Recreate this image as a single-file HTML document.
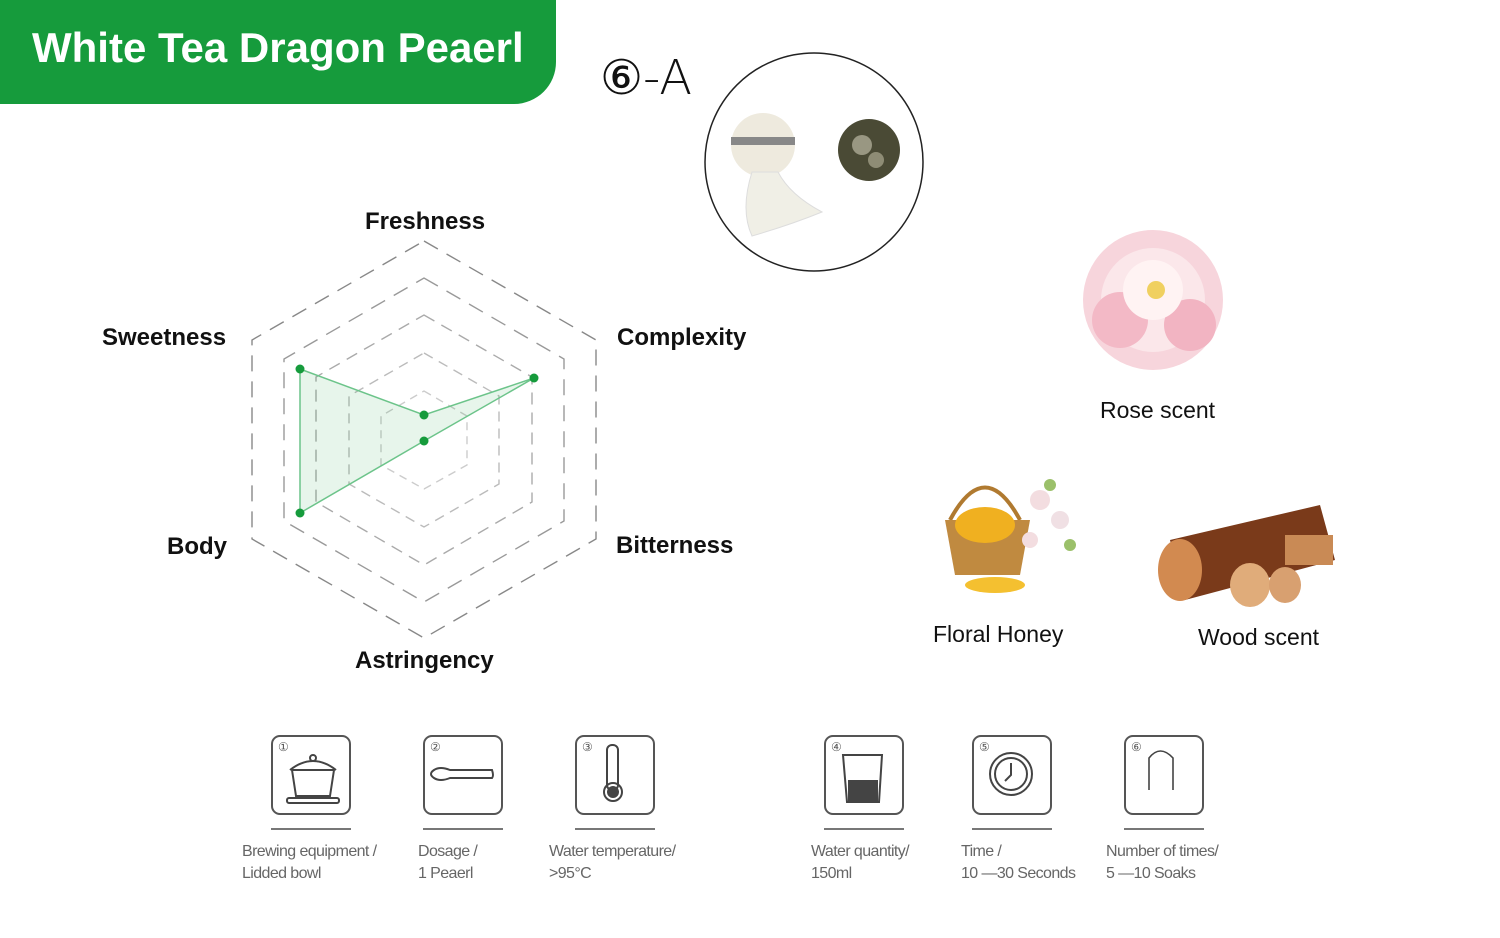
<!DOCTYPE html>
<html><head><meta charset="utf-8"><style>
body{margin:0;width:1500px;height:938px;background:#fff;position:relative;overflow:hidden;font-family:"Liberation Sans",sans-serif}
.t{position:absolute;font-weight:bold;font-size:24px;color:#111;white-space:nowrap}
.s{position:absolute;font-size:23px;color:#111;white-space:nowrap}
.cap{position:absolute;font-size:16px;color:#666;line-height:22px;letter-spacing:-0.6px;white-space:nowrap}
.ib{position:absolute;width:76px;height:76px;border:2px solid #555;border-radius:9px;top:735px}
.ln{position:absolute;height:2px;width:80px;background:#777;top:828px}
.num{position:absolute;left:5px;top:3px;font-size:12px;color:#555}
</style></head><body>
<div style="position:absolute;left:0;top:0;width:556px;height:104px;background:#169b3c;border-bottom-right-radius:42px"></div>
<div style="position:absolute;left:32px;top:24px;font-size:42px;font-weight:bold;color:#fff;white-space:nowrap">White Tea Dragon Peaerl</div>
<div style="position:absolute;left:600px;top:50px;font-size:48px;color:#111;white-space:nowrap;font-family:'DejaVu Sans',sans-serif;font-weight:200">⑥-A</div>

<svg width="1500" height="938" style="position:absolute;left:0;top:0">
<circle cx="814" cy="162" r="109" fill="none" stroke="#222" stroke-width="1.5"/>
<circle cx="763" cy="145" r="32" fill="#eeeade"/>
<rect x="731" y="137" width="64" height="8" fill="#888"/>
<path d="M752 172 Q740 210 752 236 Q790 225 822 212 Q790 195 778 172 Z" fill="#f0efe6" stroke="#ddd"/>
<circle cx="869" cy="150" r="31" fill="#4a4a35"/>
<circle cx="862" cy="145" r="10" fill="#cfcbb5" opacity=".6"/>
<circle cx="876" cy="160" r="8" fill="#bdb9a0" opacity=".6"/>

<g fill="none" stroke="#888" stroke-width="1.4" stroke-dasharray="16,10">
<polygon points="424,241 596,340 596,539 424,638 252,539 252,340"/>
<polygon points="424,278 564,359 564,521 424,602 284,521 284,359" stroke="#999"/>
<polygon points="424,315 532,377 532,502 424,565 316,502 316,377" stroke="#aaa" stroke-dasharray="12,8"/>
<polygon points="424,353 499,396 499,484 424,527 349,484 349,396" stroke="#bbb" stroke-dasharray="10,7"/>
<polygon points="424,391 467,416 467,465 424,489 381,465 381,416" stroke="#ccc" stroke-dasharray="8,6"/>
</g>
<polygon points="300,369 424,415 534,378 424,441 300,513" fill="rgba(22,155,60,0.1)" stroke="#6cc48a" stroke-width="1.5"/>
<g fill="#169b3c"><circle cx="300" cy="369" r="4.5"/><circle cx="424" cy="415" r="4.5"/><circle cx="534" cy="378" r="4.5"/><circle cx="424" cy="441" r="4.5"/><circle cx="300" cy="513" r="4.5"/></g>

<g>
<circle cx="1153" cy="300" r="70" fill="#f7d5dc"/>
<circle cx="1153" cy="300" r="52" fill="#fbe7ea"/>
<circle cx="1120" cy="320" r="28" fill="#f3b9c6"/>
<circle cx="1190" cy="325" r="26" fill="#f2b4c2"/>
<circle cx="1153" cy="290" r="30" fill="#fff3f3"/>
<circle cx="1156" cy="290" r="9" fill="#f0d060"/>
</g>
<g>
<path d="M950 520 Q985 455 1020 520" fill="none" stroke="#b07a30" stroke-width="4"/>
<path d="M945 520 L1030 520 L1020 575 L955 575 Z" fill="#c08a40"/>
<ellipse cx="985" cy="525" rx="30" ry="18" fill="#f0b020"/>
<ellipse cx="995" cy="585" rx="30" ry="8" fill="#f4c030"/>
<circle cx="1040" cy="500" r="10" fill="#f3dde0"/><circle cx="1060" cy="520" r="9" fill="#f0e0e4"/><circle cx="1030" cy="540" r="8" fill="#f3dde0"/>
<circle cx="1050" cy="485" r="6" fill="#9bc06a"/><circle cx="1070" cy="545" r="6" fill="#9bc06a"/>
</g>
<g>
<path d="M1170 540 L1320 505 L1335 560 L1185 600 Z" fill="#7a3a1a"/>
<ellipse cx="1180" cy="570" rx="22" ry="31" fill="#d28a50"/>
<ellipse cx="1250" cy="585" rx="20" ry="22" fill="#e0ac7a"/>
<ellipse cx="1285" cy="585" rx="16" ry="18" fill="#d8a070"/>
<rect x="1285" y="535" width="48" height="30" fill="#c98a55"/>
</g>

<g fill="none" stroke="#444" stroke-width="2">
<path d="M292 770 L334 770 L330 796 L296 796 Z M290 770 Q313 752 336 770"/><rect x="287" y="798" width="52" height="5" rx="2"/><circle cx="313" cy="758" r="3"/>
<path d="M450 770 L492 770 Q494 776 492 778 L450 778 Q440 782 434 778 Q428 774 434 770 Q440 766 450 770Z"/>
<rect x="607" y="745" width="11" height="45" rx="5"/><circle cx="613" cy="792" r="9"/>
<path d="M843 755 L882 755 L879 802 L847 802 Z"/>
<circle cx="1011" cy="774" r="21"/><circle cx="1011" cy="774" r="16"/><path d="M1011 763 L1011 775 L1005 781"/>
<path d="M1149 790 L1149 758 Q1160 744 1173 758 L1173 790" stroke-width="1.6"/>
</g>
<rect x="848" y="780" width="30" height="22" fill="#444"/>
<circle cx="613" cy="792" r="6" fill="#444"/>
</svg>

<div class="t" style="left:365px;top:208px">Freshness</div>
<div class="t" style="left:617px;top:324px">Complexity</div>
<div class="t" style="left:102px;top:324px">Sweetness</div>
<div class="t" style="left:616px;top:532px">Bitterness</div>
<div class="t" style="left:167px;top:533px">Body</div>
<div class="t" style="left:355px;top:647px">Astringency</div>

<div class="s" style="left:1100px;top:397px">Rose scent</div>
<div class="s" style="left:933px;top:621px">Floral Honey</div>
<div class="s" style="left:1198px;top:624px">Wood scent</div>

<div class="ib" style="left:271px"><span class="num">①</span></div>
<div class="ib" style="left:423px"><span class="num">②</span></div>
<div class="ib" style="left:575px"><span class="num">③</span></div>
<div class="ib" style="left:824px"><span class="num">④</span></div>
<div class="ib" style="left:972px"><span class="num">⑤</span></div>
<div class="ib" style="left:1124px"><span class="num">⑥</span></div>
<div class="ln" style="left:271px"></div><div class="ln" style="left:423px"></div><div class="ln" style="left:575px"></div>
<div class="ln" style="left:824px"></div><div class="ln" style="left:972px"></div><div class="ln" style="left:1124px"></div>

<div class="cap" style="left:242px;top:841px">Brewing equipment /<br>Lidded bowl</div>
<div class="cap" style="left:418px;top:841px">Dosage /<br>1 Peaerl</div>
<div class="cap" style="left:549px;top:841px">Water temperature/<br>&gt;95°C</div>
<div class="cap" style="left:811px;top:841px">Water quantity/<br>150ml</div>
<div class="cap" style="left:961px;top:841px">Time /<br>10 —30 Seconds</div>
<div class="cap" style="left:1106px;top:841px">Number of times/<br>5 —10 Soaks</div>
</body></html>
